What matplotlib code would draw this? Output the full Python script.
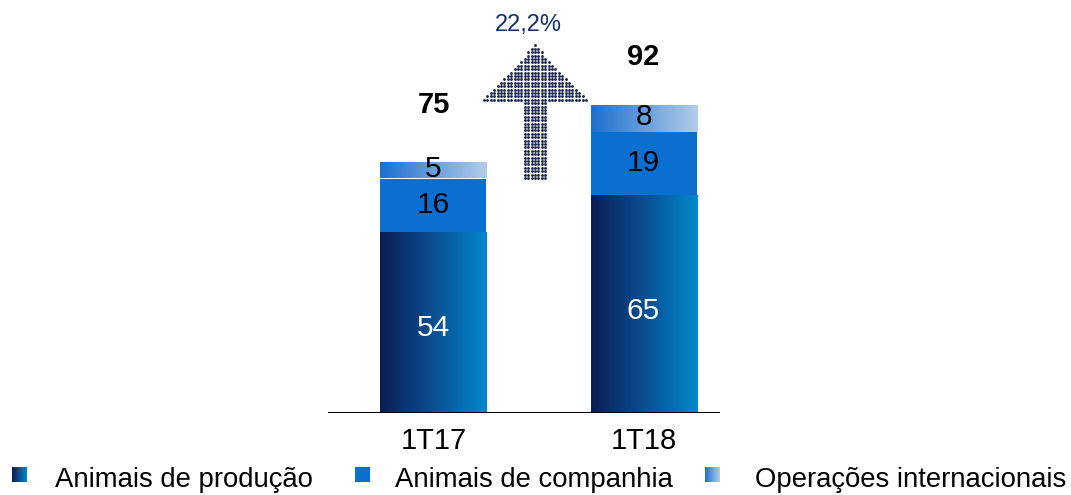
import numpy as np
import matplotlib
matplotlib.use("Agg")
import matplotlib.pyplot as plt
from matplotlib.colors import LinearSegmentedColormap
from matplotlib.path import Path
from matplotlib.patches import Rectangle

categories = ["1T17", "1T18"]
producao = [54, 65]
companhia = [16, 19]
internacional = [5, 8]
totals = [75, 92]
growth_label = "22,2%"
legend_labels = ["Animais de produção", "Animais de companhia", "Operações internacionais"]

plt.rcParams['font.family'] = ['Liberation Sans', 'DejaVu Sans']

W, H = 1071, 495
fig = plt.figure(figsize=(W / 100, H / 100), dpi=100)

cm_prod = LinearSegmentedColormap.from_list("prod", ["#0b1d55", "#0a4f92", "#0088cc"])
cm_int = LinearSegmentedColormap.from_list("int", ["#1d6fd0", "#b3cde9"])
col_comp = "#0a6fd0"

# axes: x from 328 to 720 px, y from 413 px (bottom) to 0 (top)
ax = fig.add_axes([328 / W, (H - 413) / H, (720 - 328) / W, 413 / H])
ppu = 3.35
ax.set_ylim(0, 413 / ppu)
ax.set_xlim(-0.502, 1.364)
ax.axis("off")
ax.axhline(0, color="black", lw=1.5, zorder=5)

x = np.arange(len(categories))
bw = 106 / 210
grad = np.linspace(0, 1, 256).reshape(1, -1)
total_offsets = [17, 14.3]

def grad_bar(xc, bottom, height, cmap):
    r = ax.bar(xc, height, bw, bottom=bottom, color="none", linewidth=0)[0]
    im = ax.imshow(grad, extent=[xc - bw / 2, xc + bw / 2, bottom, bottom + height],
                   aspect="auto", cmap=cmap, zorder=2, interpolation="bilinear")
    im.set_clip_path(r)

for i in range(len(categories)):
    grad_bar(x[i], 0, producao[i], cm_prod)
    ax.bar(x[i], companhia[i], bw, bottom=producao[i], color=col_comp, linewidth=0, zorder=2)
    grad_bar(x[i], producao[i] + companhia[i], internacional[i], cm_int)
    ax.text(x[i], producao[i] * 0.47, str(producao[i]), ha="center", va="center",
            fontsize=21.5, color="white", zorder=6)
    ax.text(x[i], producao[i] + companhia[i] / 2, str(companhia[i]), ha="center", va="center",
            fontsize=21.5, color="black", zorder=6)
    ax.text(x[i], producao[i] + companhia[i] + internacional[i] / 2 + 0.3, str(internacional[i]),
            ha="center", va="center", fontsize=21.5, color="black", zorder=6)
    ax.text(x[i], totals[i] + total_offsets[i], str(totals[i]), ha="center", va="center",
            fontsize=21, fontweight="bold", color="black", zorder=6)
    ax.text(x[i], -8.5, categories[i], ha="center", va="center", fontsize=21, color="black",
            clip_on=False)

# dotted arrow (in data coords between bars)
ax_x0 = (482 - 328) / 210 - 0.502
ax_x1 = (588 - 328) / 210 - 0.502
xm = (ax_x0 + ax_x1) / 2
half_head = (ax_x1 - ax_x0) / 2
half_shaft = 12.5 / 210
y_bot = (413 - 178) / ppu
y_head = (413 - 101) / ppu
y_tip = (413 - 45) / ppu
arrow = Path([(xm - half_shaft, y_bot), (xm + half_shaft, y_bot), (xm + half_shaft, y_head),
              (xm + half_head, y_head), (xm, y_tip), (xm - half_head, y_head),
              (xm - half_shaft, y_head), (xm - half_shaft, y_bot)])
dx = 3.4 / 210
dy = 3.4 / ppu
gx, gy = np.meshgrid(np.arange(xm - 16 * dx, xm + 16.5 * dx, dx), np.arange(y_bot, y_tip + dy, dy))
pts = np.column_stack([gx.ravel(), gy.ravel()])
mask = arrow.contains_points(pts, radius=1e-9)
ax.scatter(pts[mask, 0], pts[mask, 1], s=4.2, color="#1c2550", linewidths=0, zorder=6, clip_on=False)
ax.text(xm - 0.03, (413 - 25) / ppu, growth_label, ha="center", va="center", fontsize=17,
        color="#14306e", clip_on=False)

# legend
sq = 15
leg_items = [(12, 55, cm_prod, None), (355, 395, None, col_comp), (705, 755, cm_int, None)]
for (sx, tx, cmap, col), lab in zip(leg_items, legend_labels):
    lax = fig.add_axes([sx / W, (H - 482) / H, sq / W, sq / H])
    lax.axis("off")
    if cmap is not None:
        lax.imshow(grad, aspect="auto", cmap=cmap, extent=[0, 1, 0, 1])
    else:
        lax.add_patch(Rectangle((0, 0), 1, 1, color=col))
    lax.set_xlim(0, 1)
    lax.set_ylim(0, 1)
    fig.text(tx / W, (H - 480) / H, lab, ha="left", va="center", fontsize=19.8, color="black")

fig.savefig("out.png", dpi=100)
